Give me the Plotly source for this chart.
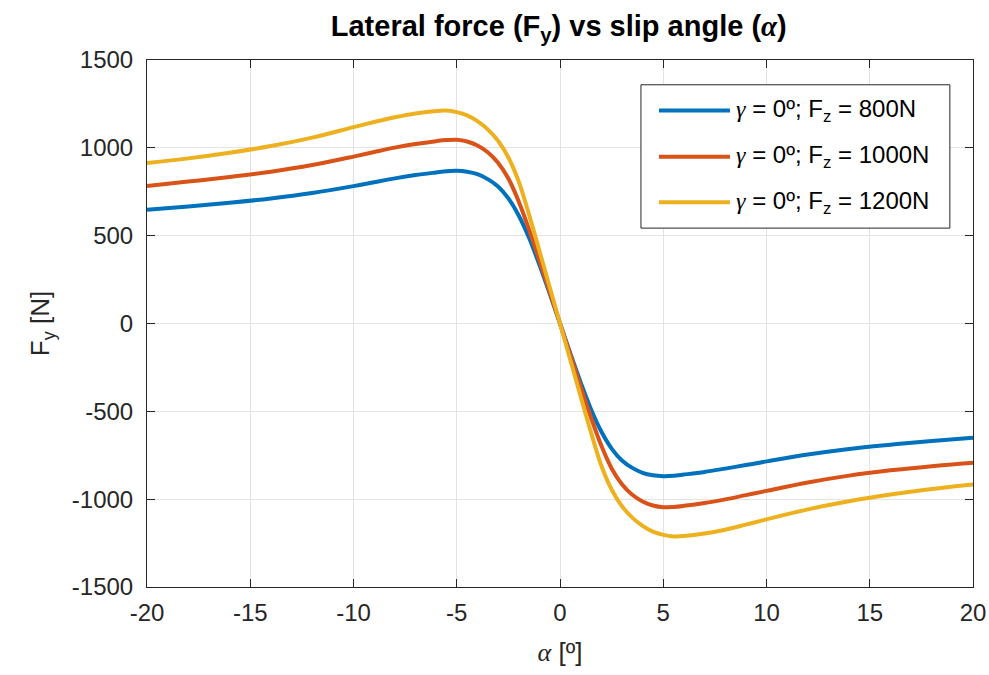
import plotly.graph_objects as go

# Slip angle samples [deg]
alpha = [-20, -18, -16, -14, -12, -10, -9, -8, -7, -6, -5.5, -5, -4.5, -4, -3.5, -3, -2.5, -2, -1.5, -1, -0.5, 0,
         0.5, 1, 1.5, 2, 2.5, 3, 3.5, 4, 4.5, 5, 5.5, 6, 7, 8, 9, 10, 12, 14, 16, 18, 20]

# Lateral force [N] for each vertical load
fy_800 = [647, 666, 687, 712, 743, 782, 804, 826, 845, 860, 867, 869, 864, 850, 822, 780, 712, 615, 488, 335, 170, 0,
          -170, -335, -488, -615, -712, -780, -822, -850, -864, -869, -867, -860, -845, -826, -806, -785, -746, -714, -690, -669, -651]
fy_1000 = [783, 808, 834, 864, 902, 950, 976, 1001, 1022, 1038, 1044, 1046, 1036, 1013, 975, 915, 825, 695, 535, 360, 180, 0,
           -180, -360, -535, -695, -825, -915, -975, -1013, -1036, -1046, -1044, -1038, -1022, -1001, -977, -953, -905, -866, -836, -812, -792]
fy_1200 = [914, 940, 972, 1010, 1058, 1118, 1147, 1174, 1196, 1210, 1212, 1203, 1185, 1152, 1105, 1040, 945, 808, 620, 415, 208, 0,
           -208, -415, -620, -808, -945, -1040, -1105, -1152, -1185, -1203, -1212, -1210, -1196, -1174, -1145, -1115, -1058, -1012, -974, -942, -916]

series = [fy_800, fy_1000, fy_1200]
labels = ["800N", "1000N", "1200N"]
colors = ["#0072BD", "#D95319", "#EDB120"]

x_ticks = list(range(-20, 21, 5))
y_ticks = list(range(-1500, 1501, 500))

FONT = "Liberation Sans, Arial, Helvetica, sans-serif"
SERIF = "style=\"font-family:'Liberation Serif'\""
INK = "#262626"

fig = go.Figure()
for fy, col in zip(series, colors):
    fig.add_trace(go.Scatter(x=alpha, y=fy, mode="lines",
                             line=dict(color=col, width=4, shape="spline", smoothing=1.0),
                             showlegend=False))

axis_common = dict(showline=True, linecolor=INK, linewidth=1, mirror="ticks",
                   ticks="inside", ticklen=8, tickcolor=INK, tickwidth=1,
                   showgrid=True, gridcolor="#e3e3e3", gridwidth=1, zeroline=False,
                   automargin=False,
                   tickfont=dict(family=FONT, size=24, color=INK))

fig.update_xaxes(range=[-20, 20], tickvals=x_ticks, ticktext=[str(v) for v in x_ticks],
                 ticklabelstandoff=4,
                 title=dict(text=f"<span {SERIF}><i>α</i></span> [º]",
                            font=dict(family=FONT, size=26, color=INK), standoff=18),
                 **axis_common)
fig.update_yaxes(range=[-1500, 1500], tickvals=y_ticks, ticktext=[str(v) for v in y_ticks],
                 ticklabelstandoff=8,
                 title=dict(text="F<sub>y</sub> [N]", font=dict(family=FONT, size=26, color=INK),
                            standoff=14),
                 **axis_common)

# Legend box drawn in paper coordinates
lx0, lx1, ly0, ly1 = 0.598, 0.972, 0.681, 0.953
fig.add_shape(type="rect", xref="paper", yref="paper", x0=lx0, x1=lx1, y0=ly0, y1=ly1,
              line=dict(color=INK, width=1), fillcolor="white", layer="above")
row_y = [0.904, 0.8165, 0.730]
for yy, col, lab in zip(row_y, colors, labels):
    fig.add_shape(type="line", xref="paper", yref="paper", x0=0.6198, x1=0.7058, y0=yy, y1=yy,
                  line=dict(color=col, width=4), layer="above")
    fig.add_annotation(xref="paper", yref="paper", x=0.711, y=yy, xanchor="left", yanchor="middle",
                       text=f"<span {SERIF}><i>γ</i></span> = 0º; F<sub>z</sub> = {lab}",
                       showarrow=False, font=dict(family=FONT, size=24, color="black"))

fig.update_layout(
    width=989, height=675,
    margin=dict(l=147, r=16, t=60, b=88),
    paper_bgcolor="white", plot_bgcolor="white",
    title=dict(text=f"<b>Lateral force (F<sub>y</sub>) vs slip angle (<span {SERIF}><i>α</i></span>)</b>",
               x=0.565, xanchor="center", y=0.962, yanchor="middle",
               font=dict(family=FONT, size=29, color="black")),
)

fig.write_html("out.html")
